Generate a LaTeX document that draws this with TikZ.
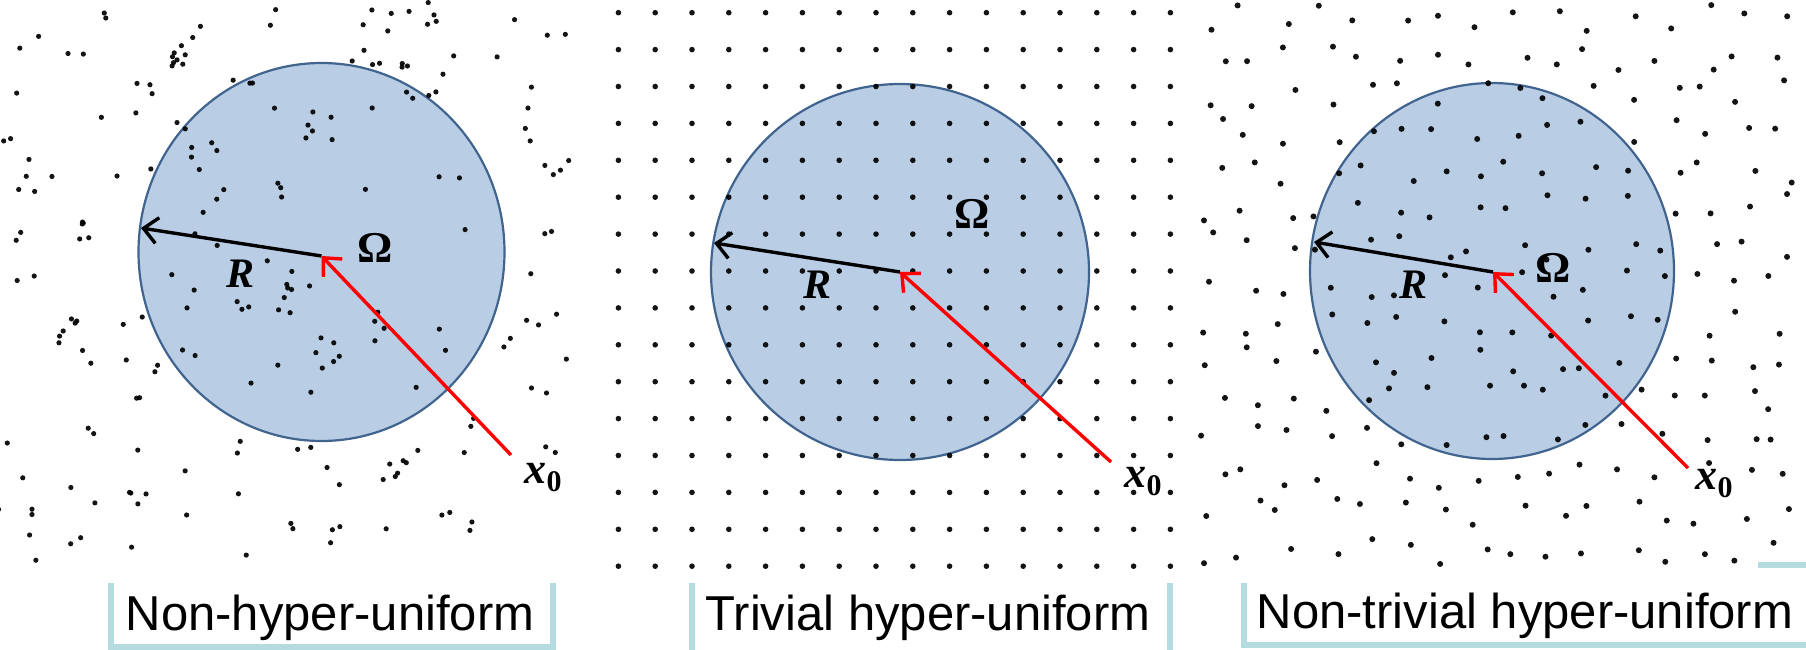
\documentclass[tikz,border=0pt]{standalone}
\usepackage{fontspec}
\setmainfont{Liberation Serif}
\newfontfamily\labelsans{Liberation Sans}
\usetikzlibrary{arrows.meta}
\definecolor{fillblue}{HTML}{B9CDE5}
\definecolor{edgeblue}{HTML}{41648F}
\definecolor{tealbar}{HTML}{B4DCE0}
\definecolor{redline}{HTML}{FF0000}
\begin{document}
\begin{tikzpicture}[x=1pt,y=-1pt,
  region/.style={draw=edgeblue,line width=2.2pt,fill=fillblue},
  radarrow/.style={line width=3.4pt,-{Straight Barb[length=14pt,width=26pt]}},
  posarrow/.style={draw=redline,line width=3.4pt,-{Straight Barb[length=14pt,width=26pt]}},
  symR/.style={font=\fontsize{42}{46}\selectfont\bfseries\itshape,inner sep=0pt},
  symO/.style={font=\fontsize{44}{48}\selectfont\bfseries,inner sep=0pt},
  symX/.style={font=\fontsize{44}{48}\selectfont\bfseries,inner sep=0pt},
  labeltext/.style={font=\labelsans\fontsize{49}{56}\selectfont,inner sep=0pt,anchor=base},
  frame/.style={draw=tealbar,line width=6.5pt},
  pdot/.style={fill=black,opacity=0.92}
]
\useasboundingbox[fill=white] (0,0) rectangle (1806,650);

% ---------- regions Omega
\coordinate (c1) at (321.5,256);
\coordinate (c2) at (900,272);
\coordinate (c3) at (1493,272);
\draw[region] (321.5,252) ellipse[x radius=183,y radius=189];
\draw[region] (900,272) ellipse[x radius=189,y radius=188];
\draw[region] (1492,271) ellipse[x radius=182,y radius=188];

% ---------- panel 1: Poisson-like (clustered) points
\pgfmathsetseed{11}
\foreach \i in {1,...,130}{
  \pgfmathsetmacro\px{6+570*rnd}
  \pgfmathsetmacro\py{14+556*rnd}
  \pgfmathtruncatemacro\nk{1+int(2.3*rnd)}
  \foreach \k in {1,...,\nk}{
    \pgfmathsetmacro\qx{\px+26*(rnd-0.5)}
    \pgfmathsetmacro\qy{\py+26*(rnd-0.5)}
    \fill[pdot] (\qx,\qy) circle[radius=2.6];
  }
}

% ---------- panel 2: square lattice
\foreach \r in {0,...,15}{
  \foreach \c in {0,...,15}{
    \fill[pdot] ({618.4+36.8*\c},{12.7+36.9*\r}) circle[radius=2.8];
  }
}

% ---------- panel 3: perturbed lattice (hyperuniform)
\pgfmathsetseed{5}
\foreach \r in {0,...,14}{
  \foreach \c in {0,...,15}{
    \pgfmathsetmacro\px{1212+38*\c+28*(rnd-0.5)}
    \pgfmathsetmacro\py{18+38*\r+28*(rnd-0.5)}
    \fill[pdot] (\px,\py) circle[radius=3.0];
  }
}

% ---------- radius and position arrows
\coordinate (t1) at (141,228);
\coordinate (s1) at (511,455);
\coordinate (t2) at (714,243);
\coordinate (s2) at (1111,462);
\coordinate (t3) at (1314,242);
\coordinate (s3) at (1688,468);

\draw[radarrow] (c1) -- (t1);
\draw[posarrow] (s1) -- (c1);
\draw[radarrow] (c2) -- (t2);
\draw[posarrow] (s2) -- (c2);
\draw[radarrow] (c3) -- (t3);
\draw[posarrow] (s3) -- (c3);

% ---------- symbols
\node[symR] (R1) at (241,274) {R};
\node[symO] (O1) at (375,248) {Ω};
\node[symX] (X1) at (543,478) {\textit{x}\raisebox{-8pt}{\fontsize{30}{32}\selectfont 0}};
\node[symR] (R2) at (817,285) {R};
\node[symO] (O2) at (972,214) {Ω};
\node[symX] (X2) at (1143,482) {\textit{x}\raisebox{-8pt}{\fontsize{30}{32}\selectfont 0}};
\node[symR] (R3) at (1413,285) {R};
\node[symO] (O3) at (1553,268) {Ω};
\node[symX] (X3) at (1714,484) {\textit{x}\raisebox{-8pt}{\fontsize{30}{32}\selectfont 0}};

% ---------- captions with frames
\draw[frame] (111,583) -- (111,647) -- (553,647) -- (553,583);
\node[labeltext] (L1) at (330,630) {Non-hyper-uniform};

\draw[frame] (692,583) -- (692,650);
\draw[frame] (1170,583) -- (1170,650);
\node[labeltext] (L2) at (928,630) {Trivial hyper-uniform};

\draw[frame] (1244,583) -- (1244,645) -- (1806,645);
\draw[frame] (1758,565) -- (1806,565);
\node[labeltext] (L3) at (1525,628) {Non-trivial hyper-uniform};
\end{tikzpicture}
\end{document}
